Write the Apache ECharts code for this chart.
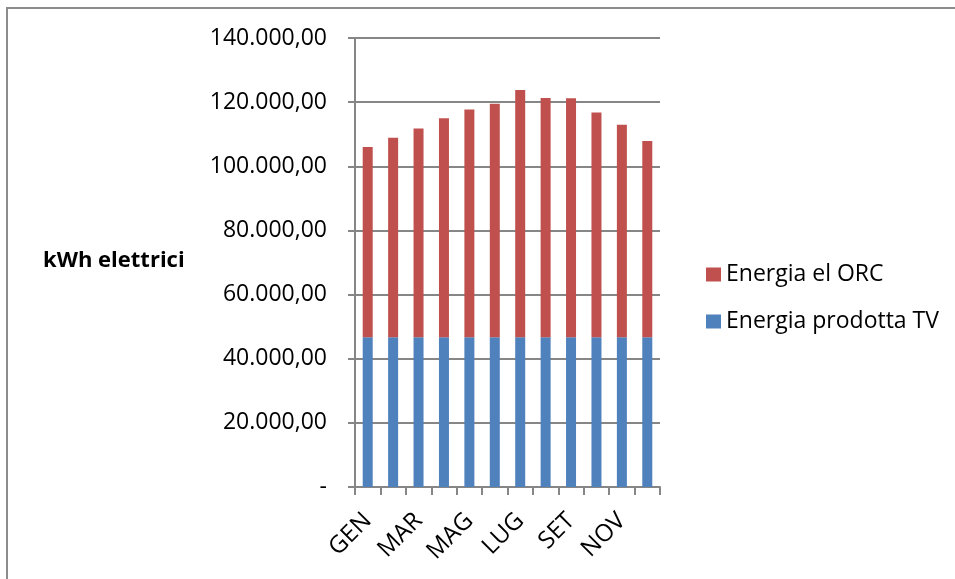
<!DOCTYPE html>
<html>
<head>
<meta charset="utf-8">
<script src="https://cdn.jsdelivr.net/npm/echarts@6/dist/echarts.min.js"></script>
<style>
html,body{margin:0;padding:0;background:#fff;}
#c{width:955px;height:579px;}
</style>
</head>
<body>
<div id="c"></div>
<script>
var months = ['GEN','FEB','MAR','APR','MAG','GIU','LUG','AGO','SET','OTT','NOV','DIC'];
var energiaTV = [46700,46700,46700,46700,46700,46700,46700,46700,46700,46700,46700,46700];
var energiaORC = [59300,62200,65100,68300,71000,72800,77100,74600,74500,70100,66250,61150];
var yTicks = [0,20000,40000,60000,80000,100000,120000,140000];

function fmt(v){
  if (v === 0) return '-';
  var s = Math.round(v).toString().replace(/\B(?=(\d{3})+(?!\d))/g,'.');
  return s + ',00';
}

var chart = echarts.init(document.getElementById('c'));
var font = '"Open Sans", "Liberation Sans", sans-serif';
chart.setOption({
  animation:false,
  backgroundColor:'#fff',
  textStyle:{fontFamily:font,color:'#000'},
  graphic:[
    {type:'rect',shape:{x:7,y:8,width:1000,height:700},style:{fill:'none',stroke:'#8c8c8c',lineWidth:2}},
    {type:'text',left:43,top:250,style:{text:'kWh elettrici',font:'bold 22px '+font,fill:'#000'}}
  ],
  legend:{
    orient:'vertical',
    left:701, top:258,
    itemWidth:15,itemHeight:14,itemGap:24,
    icon:'rect',
    textStyle:{fontSize:23,color:'#000',fontFamily:font},
    data:['Energia el ORC','Energia prodotta TV']
  },
  grid:{left:355,right:295,top:38,bottom:92,containLabel:false},
  xAxis:{
    type:'category',
    data:months,
    boundaryGap:true,
    axisLine:{lineStyle:{color:'#868686',width:2}},
    axisTick:{show:true,interval:0,length:8,alignWithLabel:false,lineStyle:{color:'#868686',width:2}},
    axisLabel:{interval:1,rotate:45,fontSize:24,color:'#000',fontFamily:font,margin:30}
  },
  yAxis:{
    type:'value',
    min:0,max:140000,interval:20000,
    axisLine:{show:true,lineStyle:{color:'#868686',width:2}},
    axisTick:{show:true,length:7,lineStyle:{color:'#868686',width:2}},
    splitLine:{lineStyle:{color:'#868686',width:2}},
    axisLabel:{fontSize:23,color:'#000',fontFamily:font,margin:28,formatter:fmt}
  },
  series:[
    {name:'Energia prodotta TV',type:'bar',stack:'tot',data:energiaTV,barWidth:10,itemStyle:{color:'#4F81BD'}},
    {name:'Energia el ORC',type:'bar',stack:'tot',data:energiaORC,barWidth:10,itemStyle:{color:'#C0504D'}}
  ]
});
</script>
</body>
</html>
